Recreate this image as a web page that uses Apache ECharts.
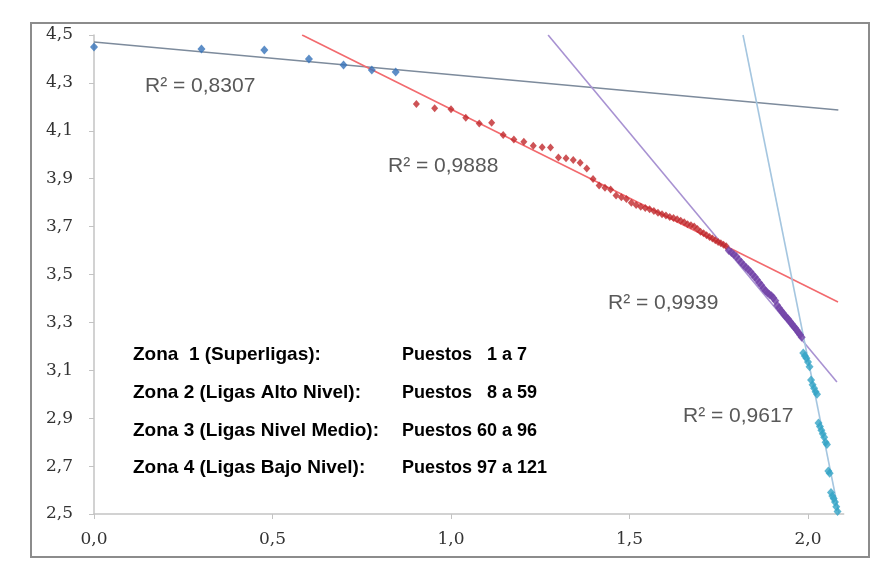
<!DOCTYPE html>
<html>
<head>
<meta charset="utf-8">
<script src="https://cdn.jsdelivr.net/npm/echarts@6/dist/echarts.min.js"></script>
<style>
  html, body { margin: 0; padding: 0; background: #fff; }
  #chart { width: 874px; height: 563px; }
</style>
</head>
<body>
<div id="chart"></div>
<script>
// Ranking of leagues: value against log10(rank), split into four zones.
const zoneFirstRank = [1, 8, 60, 97];

const zone1Values = [4.450, 4.442, 4.437, 4.400, 4.375, 4.354, 4.346];

const zone2Values = [
  4.212, 4.194, 4.190, 4.155, 4.131, 4.134, 4.082, 4.064, 4.054, 4.038,
  4.031, 4.030, 3.989, 3.985, 3.978, 3.967, 3.943, 3.899, 3.872, 3.862,
  3.855, 3.830, 3.823, 3.815, 3.800, 3.790, 3.783, 3.778, 3.772, 3.765,
  3.758, 3.752, 3.746, 3.740, 3.736, 3.731, 3.724, 3.718, 3.710, 3.706,
  3.700, 3.690, 3.678, 3.672, 3.664, 3.657, 3.650, 3.643, 3.636, 3.630,
  3.624, 3.618
];

const zone3Values = [
  3.600, 3.592, 3.583, 3.575, 3.562, 3.551, 3.540, 3.530, 3.521, 3.511,
  3.500, 3.490, 3.478, 3.466, 3.455, 3.443, 3.432, 3.424, 3.417, 3.411,
  3.402, 3.390, 3.372, 3.360, 3.350, 3.340, 3.330, 3.322, 3.314, 3.304,
  3.295, 3.285, 3.278, 3.268, 3.258, 3.248, 3.238
];

const zone4Values = [
  3.172, 3.160, 3.150, 3.135, 3.115, 3.060, 3.040, 3.025, 3.010, 3.000,
  2.880, 2.865, 2.850, 2.835, 2.820, 2.800, 2.790, 2.680, 2.670, 2.590,
  2.575, 2.565, 2.550, 2.530, 2.510
];

// Linear trend line end points (x = log10 rank, y = value)
const trend1 = [[0, 4.471], [2.085, 4.187]];
const trend2 = [[0.583, 4.5], [2.084, 3.385]];
const trend3 = [[1.272, 4.5], [2.081, 3.051]];
const trend4 = [[1.818, 4.5], [2.087, 2.5]];

const r2Labels = ['R² = 0,8307', 'R² = 0,9888', 'R² = 0,9939', 'R² = 0,9617'];

const zoneNames = [
  'Zona  1 (Superligas):',
  'Zona 2 (Ligas Alto Nivel):',
  'Zona 3 (Ligas Nivel Medio):',
  'Zona 4 (Ligas Bajo Nivel):'
];
const zoneRanges = ['Puestos   1 a 7', 'Puestos   8 a 59', 'Puestos 60 a 96', 'Puestos 97 a 121'];

const xTicks = [0, 0.5, 1.0, 1.5, 2.0];
const yTicks = [2.5, 2.7, 2.9, 3.1, 3.3, 3.5, 3.7, 3.9, 4.1, 4.3, 4.5];

const pointColors = ['#3572b9', '#c0282c', '#7141a6', '#33a4c6'];
const pointSizes = [[8, 9], [7, 8], [8, 9], [8, 9]];
const lineColors = ['#7d8b9c', '#f26a6e', '#a892d2', '#a5c6e0'];

function toPoints(first, values) {
  return values.map((v, i) => [Math.log10(first + i), v]);
}

const zoneValues = [zone1Values, zone2Values, zone3Values, zone4Values];
const trends = [trend1, trend2, trend3, trend4];

const comma = v => v.toFixed(1).replace('.', ',');

const series = [];
trends.forEach((t, i) => {
  series.push({
    type: 'line',
    data: t,
    symbol: 'none',
    silent: true,
    z: 2,
    lineStyle: { color: lineColors[i], width: 1.6 }
  });
});
zoneValues.forEach((vals, i) => {
  series.push({
    type: 'scatter',
    data: toPoints(zoneFirstRank[i], vals),
    symbol: 'diamond',
    symbolSize: pointSizes[i],
    z: 3,
    itemStyle: { color: pointColors[i] }
  });
});

// Annotation texts and outer frame
const r2Pos = [[145, 86], [388, 166], [608, 303], [683, 416]];
const graphics = [
  {
    type: 'rect',
    shape: { x: 31, y: 23, width: 838, height: 534 },
    style: { fill: 'none', stroke: '#8c8c8c', lineWidth: 2 },
    z: 0
  }
];
r2Labels.forEach((t, i) => {
  graphics.push({
    type: 'text', x: r2Pos[i][0], y: r2Pos[i][1], z: 10,
    style: {
      text: t, fill: '#595959', font: '21px "Liberation Sans", Arial, sans-serif',
      textVerticalAlign: 'middle'
    }
  });
});
const rowY = [355, 393, 431, 468];
zoneNames.forEach((t, i) => {
  graphics.push({
    type: 'text', x: 133, y: rowY[i], z: 10,
    style: {
      text: t, fill: '#000', font: 'bold 19px "Liberation Sans", Arial, sans-serif',
      textVerticalAlign: 'middle'
    }
  });
  graphics.push({
    type: 'text', x: 402, y: rowY[i], z: 10,
    style: {
      text: zoneRanges[i], fill: '#000', font: 'bold 18px "Liberation Sans", Arial, sans-serif',
      textVerticalAlign: 'middle'
    }
  });
});

const chart = echarts.init(document.getElementById('chart'), null, { renderer: 'canvas' });
chart.setOption({
  animation: false,
  backgroundColor: '#ffffff',
  grid: { left: 94, top: 35, right: 30.3, bottom: 49 },
  xAxis: {
    type: 'value', min: 0, max: 2.1,
    axisLine: { show: true, lineStyle: { color: '#c3c3c3', width: 1.5 } },
    axisTick: { show: true, customValues: xTicks, length: 5, lineStyle: { color: '#c3c3c3' } },
    axisLabel: {
      customValues: xTicks, formatter: comma, margin: 17,
      color: '#333333', fontFamily: '"DejaVu Serif", serif', fontSize: 17
    },
    splitLine: { show: false }
  },
  yAxis: {
    type: 'value', min: 2.5, max: 4.5,
    axisLine: { show: true, lineStyle: { color: '#c3c3c3', width: 1.5 } },
    axisTick: { show: true, customValues: yTicks, length: 5, lineStyle: { color: '#c3c3c3' } },
    axisLabel: {
      customValues: yTicks, formatter: comma, margin: 21,
      color: '#333333', fontFamily: '"DejaVu Serif", serif', fontSize: 17
    },
    splitLine: { show: false }
  },
  graphic: graphics,
  series: series
});
</script>
</body>
</html>
